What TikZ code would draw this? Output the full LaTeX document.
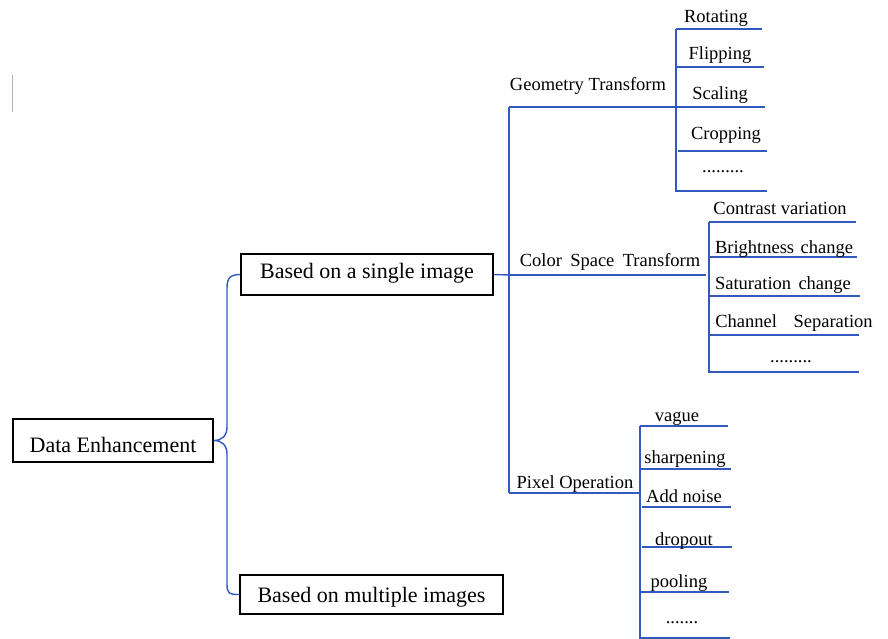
\documentclass[tikz,border=0pt]{standalone}
\usepackage{fontspec}
\setmainfont{Liberation Serif}
\definecolor{treeblue}{RGB}{48,90,192}
\begin{document}
\begin{tikzpicture}[x=1pt,y=-1pt,
  box/.style={draw=black,line width=1.3pt,minimum width=#1,minimum height=41pt,inner sep=0pt,
    text height=15pt,text depth=0pt,font=\fontsize{22}{24}\selectfont},
  branch/.style={draw=treeblue,line width=1.4pt},
  lbl/.style={inner sep=0pt,anchor=base,font=\fontsize{18.5}{20}\selectfont}]
\useasboundingbox (0,0) rectangle (888,639);
\fill[white] (0,0) rectangle (888,639);
\draw[gray!60,line width=0.8pt] (12,75) -- (12,112);

% main boxes
\node[box=200pt,minimum height=43pt] (de) at (113,440.5) {\raisebox{-4pt}{Data Enhancement}};
\node[box=252pt] (single) at (367,274.5) {\raisebox{4pt}{Based on a single image}};
\node[box=263pt,minimum height=39pt] (multi) at (371.5,594.5) {Based on multiple images};

% brace joining the root to its two branches
\draw[branch] (single.west) .. controls +(-10,0) and +(0,-10) .. (227,288)
  -- (227,427) .. controls +(0,9) and +(8,0) .. (de.east)
  .. controls +(8,0) and +(0,-9) .. (227,454)
  -- (227,584) .. controls +(0,10) and +(-10,0) .. (multi.west);

% trunk of the single-image branch
\coordinate (trunkTop) at (509,107);
\coordinate (trunkMid) at (509,275);
\coordinate (trunkBot) at (509,493);
\draw[branch] (single.east) -- (trunkMid);
\draw[branch] (trunkTop) -- (trunkBot);

% ---- Geometry Transform ----
\coordinate (gJ) at (676,107);
\draw[branch] (trunkTop) -- (gJ);
\node[lbl] (geo) at (588,91) {Geometry Transform};
\draw[branch] (676,29) -- (676,192);
\draw[branch] (676,29) -- (762,29);
\draw[branch] (676,67) -- (764,67);
\draw[branch] (gJ) -- (765,107);
\draw[branch] (678,151) -- (767,151);
\draw[branch] (676,191) -- (767,191);
\node[lbl] (g1) at (716,23) {Rotating};
\node[lbl] (g2) at (720,60) {Flipping};
\node[lbl] (g3) at (720,100) {Scaling};
\node[lbl] (g4) at (726,140) {Cropping};
\node[lbl] (g5) at (723,173) {.........};

% ---- Color Space Transform ----
\coordinate (cJ) at (706,275);
\draw[branch] (trunkMid) -- (cJ);
\node[lbl] (col) at (610,266) {Color\hspace{0.45em}Space\hspace{0.45em}Transform};
\draw[branch] (709,222) -- (709,373);
\draw[branch] (709,222) -- (856,222);
\draw[branch] (709,257) -- (857,257);
\draw[branch] (709,296) -- (860,296);
\draw[branch] (709,335) -- (859,335);
\draw[branch] (709,372) -- (859,372);
\node[lbl] (c1) at (780,214) {Contrast variation};
\node[lbl] (c2) at (784,253) {Brightness\hspace{0.35em}change};
\node[lbl] (c3) at (783,289.5) {Saturation\hspace{0.4em}change};
\node[lbl] (c4) at (794,327) {Channel\hspace{0.9em}Separation};
\node[lbl] (c5) at (791,362) {.........};

% ---- Pixel Operation ----
\coordinate (pJ) at (640,493);
\draw[branch] (trunkBot) -- (pJ);
\node[lbl] (pix) at (575,488.5) {Pixel Operation};
\draw[branch] (640,426) -- (640,639);
\draw[branch] (640,426) -- (728,426);
\draw[branch] (640,469) -- (731,469);
\draw[branch] (642,507) -- (731,507);
\draw[branch] (642,547) -- (732,547);
\draw[branch] (640,592) -- (729,592);
\draw[branch] (640,638) -- (730,638);
\node[lbl] (p1) at (677,421) {vague};
\node[lbl] (p2) at (685,463) {sharpening};
\node[lbl] (p3) at (684,502) {Add noise};
\node[lbl] (p4) at (684,545) {dropout};
\node[lbl] (p5) at (679,587.5) {pooling};
\node[lbl] (p6) at (682,623.5) {.......};
\end{tikzpicture}
\end{document}
